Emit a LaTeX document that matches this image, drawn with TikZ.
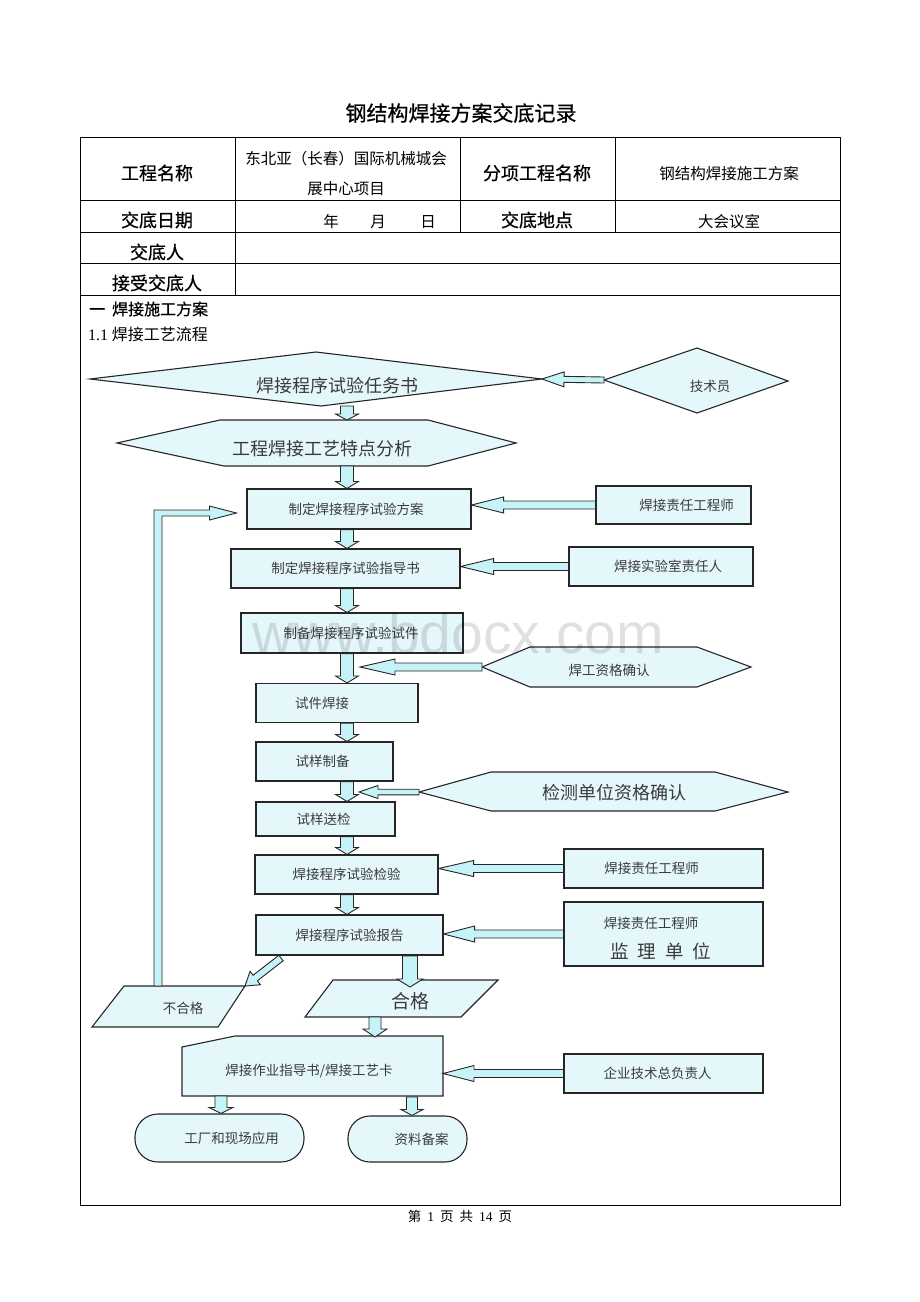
\documentclass[tikz,border=0pt]{standalone}
\usepackage{fontspec}
\setmainfont{Noto Sans CJK SC}
\newfontfamily\cjkhead[FakeBold=0.6]{Noto Sans CJK SC}
\newfontfamily\latinserif{Liberation Serif}
\newfontfamily\wmfont{Liberation Sans}
\usetikzlibrary{calc}

\definecolor{boxfill}{HTML}{E4F8FC}
\definecolor{arrowfill}{HTML}{C6F3F8}
\definecolor{edgecol}{HTML}{262626}
\definecolor{txtcol}{HTML}{3A3A3A}

% block arrow: from, to, shaft half width, head half width, head length
\newcommand{\blockarrow}[5]{%
  \path (#1) coordinate (ba-a) (#2) coordinate (ba-b);
  \path ($(ba-b)!#5pt!(ba-a)$) coordinate (ba-c);
  \draw[arrowbody] ($(ba-a)!#3pt!90:(ba-b)$) -- ($(ba-c)!#3pt!-90:(ba-a)$)
    -- ($(ba-c)!#4pt!-90:(ba-a)$) -- (ba-b) -- ($(ba-c)!#4pt!90:(ba-a)$)
    -- ($(ba-c)!#3pt!90:(ba-a)$) -- ($(ba-a)!#3pt!-90:(ba-b)$) -- cycle;}

\begin{document}
\begin{tikzpicture}[x=1pt,y=-1pt,
  tline/.style={line width=0.9pt, draw=black},
  flow/.style={draw=edgecol, fill=boxfill, line width=1.1pt},
  box/.style={flow, rectangle, inner sep=0pt, text=txtcol, font=\fontsize{13.5}{16}\selectfont},
  arrowbody/.style={draw=edgecol, fill=arrowfill, line width=0.9pt, line join=miter},
  lab/.style={inner sep=0pt, text=txtcol, font=\fontsize{13.5}{16}\selectfont},
  biglab/.style={inner sep=0pt, text=txtcol, font=\fontsize{18}{21}\selectfont},
  head/.style={inner sep=0pt, font=\cjkhead\fontsize{18}{21}\selectfont},
  val/.style={inner sep=0pt, font=\fontsize{15.5}{18}\selectfont},
]
\useasboundingbox (0,0) rectangle (920,1302);
\fill[white] (0,0) rectangle (920,1302);

% title and table
\node[inner sep=0pt, font=\cjkhead\fontsize{21}{24}\selectfont] (title) at (461,113) {钢结构焊接方案交底记录};
\draw[tline] (80,137) rectangle (840,1205);
\draw[tline] (80,200) -- (840,200);
\draw[tline] (80,232) -- (840,232);
\draw[tline] (80,263) -- (840,263);
\draw[tline] (80,295) -- (840,295);
\draw[tline] (235,137) -- (235,295);
\draw[tline] (460,137) -- (460,232);
\draw[tline] (615,137) -- (615,232);

\node[head] (projname) at (157,173) {工程名称};
\node[val] (proj1) at (346,159) {东北亚（长春）国际机械城会};
\node[val] (proj2) at (346,189) {展中心项目};
\node[head] (subname) at (537,173) {分项工程名称};
\node[val] (subval) at (729,174) {钢结构焊接施工方案};
\node[head] (datelab) at (157,220) {交底日期};
\node[val] (year) at (331,222) {年};
\node[val] (month) at (378,222) {月};
\node[val] (day) at (428,222) {日};
\node[head] (placelab) at (537,220) {交底地点};
\node[val] (placeval) at (729,222) {大会议室};
\node[head] (giver) at (157,252) {交底人};
\node[head] (taker) at (157,283) {接受交底人};
\node[inner sep=0pt, anchor=west, font=\cjkhead\fontsize{16}{19}\selectfont] (sec) at (89,309) {一\hspace{7pt}焊接施工方案};
\node[inner sep=0pt, anchor=west, font=\fontsize{16}{19}\selectfont] (subsec) at (88,334) {{\latinserif 1.1} 焊接工艺流程};

% flow shapes
\draw[flow] (90,379) coordinate (task-w) -- (316,352) -- (542,379) coordinate (task-e) -- (321,406) coordinate (task-s) -- cycle;
\node[biglab] (task) at (337,386) {焊接程序试验任务书};
\draw[flow] (604,380) coordinate (tech-w) -- (697,348) -- (788,381) -- (697,413) -- cycle;
\node[lab] (tech) at (710,386) {技术员};

\draw[flow] (117,443) -- (220,420) coordinate (feat-n) -- (428,420) -- (516,443) -- (428,466) -- (224,466) coordinate (feat-s) -- cycle;
\node[biglab] (feat) at (322,449) {工程焊接工艺特点分析};

\coordinate (spine) at (347,0);

\node[box, minimum width=224, minimum height=40] (plan) at (359,509) {制定焊接程序试验方案\hspace*{6pt}};
\node[box, minimum width=155, minimum height=38] (eng1) at (673.5,505) {\hspace*{26pt}焊接责任工程师};
\node[box, minimum width=229, minimum height=39] (guide) at (345.5,568.5) {制定焊接程序试验指导书};
\node[box, minimum width=184, minimum height=39] (lab) at (661,566.5) {\hspace*{14pt}焊接实验室责任人};
\node[box, minimum width=222, minimum height=40] (piece) at (352,633) {制备焊接程序试验试件\hspace*{2pt}};

\draw[flow] (482,667) coordinate (weldq-w) -- (530,647) -- (697,647) -- (751,667) -- (697,687) -- (530,687) -- cycle;
\node[lab] (weldq) at (609,670) {焊工资格确认};

\node[box, minimum width=162, minimum height=39] (weldtest) at (337,703) {试件焊接\hspace*{30pt}};
\node[box, minimum width=137, minimum height=39] (prep) at (324.5,761.5) {试样制备\hspace*{4pt}};

\draw[flow] (419,792) coordinate (inspq-w) -- (491,772) -- (715,772) -- (788,792) -- (715,811) -- (491,811) -- cycle;
\node[biglab] (inspq) at (614,793) {检测单位资格确认};

\node[box, minimum width=139, minimum height=34] (send) at (325.5,819) {\raisebox{-5pt}{试样送检}\hspace*{4pt}};
\node[box, minimum width=183, minimum height=39] (check) at (346.5,874.5) {焊接程序试验检验};
\node[box, minimum width=199, minimum height=39] (eng2) at (663.5,868.5) {焊接责任工程师\hspace*{24pt}};
\node[box, minimum width=187, minimum height=40] (report) at (349.5,935) {焊接程序试验报告};
\node[box, minimum width=199, minimum height=64] (super) at (663.5,934) {};
\node[lab] (super1) at (651,923) {焊接责任工程师};
\node[inner sep=0pt, text=txtcol, font=\fontsize{18.5}{21}\selectfont] (super2) at (661,951) {监\hspace{9pt}理\hspace{9pt}单\hspace{9pt}位};

\draw[flow] (124,986) coordinate (fail-n) -- (245,986) coordinate (fail-ne) -- (218,1027) -- (92,1027) -- cycle;
\node[lab] (fail) at (183,1008) {不合格};
\draw[flow] (333,980) -- (498,980) -- (461,1017) -- (305,1017) -- cycle;
\node[inner sep=0pt, text=txtcol, font=\fontsize{19}{22}\selectfont] (pass) at (410,1001) {合格};

\draw[flow] (182,1047) -- (235,1036) -- (443,1036) coordinate (card-e) -- (443,1096) -- (182,1096) -- cycle;
\node[lab] (card) at (309,1071) {焊接作业指导书/焊接工艺卡};
\node[box, minimum width=199, minimum height=39] (boss) at (663.5,1073.5) {企业技术总负责人\hspace*{12pt}};

\node[box, rounded corners=23pt, minimum width=169, minimum height=48] (apply) at (219.5,1138) {\raisebox{-5pt}{\hspace*{24pt}工厂和现场应用}};
\node[box, rounded corners=22pt, minimum width=119, minimum height=46] (file) at (407.5,1139) {\raisebox{-6pt}{\hspace*{28pt}资料备案}};

% arrows
\blockarrow{tech-w}{task-e}{3}{7.5}{22}
\blockarrow{task-s -| spine}{feat-n -| spine}{6.5}{11.5}{6}
\blockarrow{feat-s -| spine}{plan.north -| spine}{6.5}{11.5}{7}
\blockarrow{eng1.west}{eng1.west -| plan.east}{4}{8}{32}
\blockarrow{plan.south -| spine}{guide.north -| spine}{6.5}{11.5}{7}
\blockarrow{lab.west}{lab.west -| guide.east}{4}{8}{33}
\blockarrow{guide.south -| spine}{piece.north -| spine}{6.5}{11.5}{7}
\blockarrow{piece.south -| spine}{weldtest.north -| spine}{6.5}{11.5}{7}
\path (weldq-w -| spine) ++(13,0) coordinate (weldq-tip);
\blockarrow{weldq-w}{weldq-tip}{4}{8}{35}
\blockarrow{weldtest.south -| spine}{prep.north -| spine}{6.5}{11.5}{7}
\blockarrow{prep.south -| spine}{send.north -| spine}{6.5}{11.5}{7}
\path (inspq-w -| spine) ++(12,0) coordinate (inspq-tip);
\blockarrow{inspq-w}{inspq-tip}{2.8}{6.5}{19}
\blockarrow{send.south -| spine}{check.north -| spine}{6.5}{11.5}{7}
\blockarrow{eng2.west}{eng2.west -| check.east}{4}{8}{35}
\blockarrow{check.south -| spine}{report.north -| spine}{6.5}{11.5}{7}
\blockarrow{super.west}{super.west -| report.east}{4}{8}{31}
\coordinate (passtop) at (410,956);
\coordinate (passtip) at (410,987);
\blockarrow{passtop}{passtip}{7.5}{13}{8}
\coordinate (failtop) at (281,958);
\blockarrow{failtop}{fail-ne}{3.5}{8.5}{13}
\coordinate (cardtop) at (375,1017);
\coordinate (cardtip) at (375,1037);
\blockarrow{cardtop}{cardtip}{6}{12}{8}
\blockarrow{boss.west}{boss.west -| card-e}{4}{8}{31}
\coordinate (applytop) at (221,1096);
\blockarrow{applytop}{apply.north -| applytop}{6}{12}{6}
\coordinate (filetop) at (412,1097);
\blockarrow{filetop}{file.north -| filetop}{5.5}{11}{6}

% feedback from fail back to plan
\coordinate (fb-start) at (158,986);
\coordinate (fb-turn) at (158,513);
\path (fb-turn -| plan.west) ++(-10,0) coordinate (fb-tip);
\draw[arrowbody] ($(fb-start)+(-4,0)$) -- ($(fb-turn)+(-4,-3)$) -- ($(fb-tip)+(-27,-3)$) -- ($(fb-tip)+(-27,-7)$) -- (fb-tip)
  -- ($(fb-tip)+(-27,7)$) -- ($(fb-tip)+(-27,3)$) -- ($(fb-turn)+(4,3)$) -- ($(fb-start)+(4,0)$) -- cycle;

% watermark and footer
\node[inner sep=0pt, text=black, text opacity=0.12, font=\wmfont\fontsize{57}{60}\selectfont] (wm) at (458,633) {www.bdocx.com};
\node[inner sep=0pt, font=\fontsize{13.5}{16}\selectfont] (footer) at (460,1216) {第\hspace{6pt}{\latinserif 1}\hspace{6pt}页\hspace{6pt}共\hspace{6pt}{\latinserif 14}\hspace{6pt}页};
\end{tikzpicture}
\end{document}
